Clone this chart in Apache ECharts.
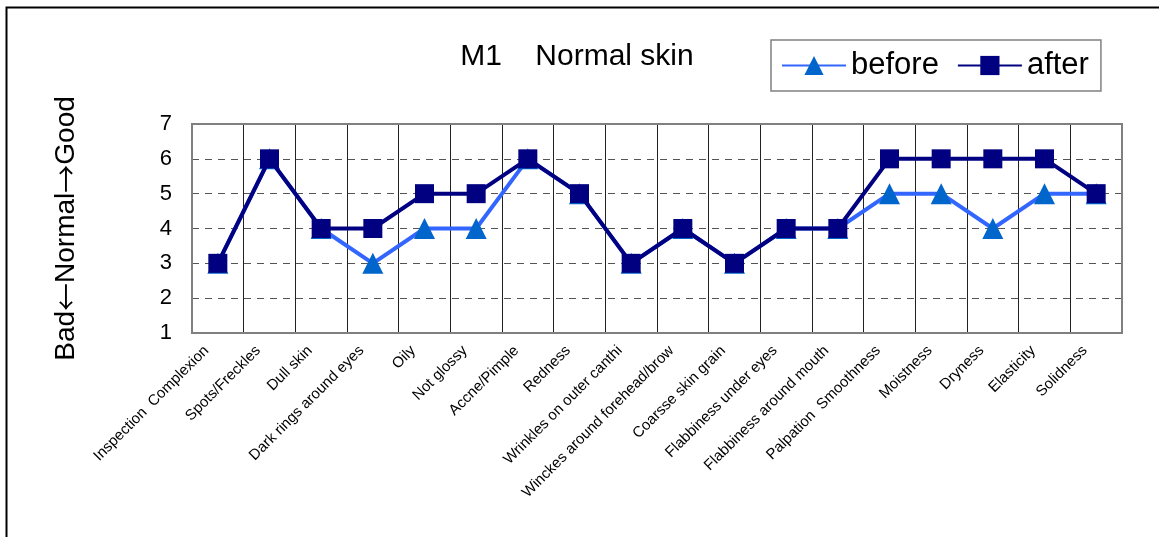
<!DOCTYPE html>
<html>
<head>
<meta charset="utf-8">
<script src="https://cdn.jsdelivr.net/npm/echarts@6/dist/echarts.min.js"></script>
<style>
  html, body { margin: 0; padding: 0; background: #fff; }
  #chart { width: 1159px; height: 537px; }
</style>
</head>
<body>
<div id="chart"></div>
<script>
const categories = [
  'Inspection  Complexion', 'Spots/Freckles', 'Dull skin', 'Dark rings around eyes',
  'Oily', 'Not glossy', 'Accne/Pimple', 'Redness', 'Wrinkles on outer canthi',
  'Winckes around forehead/brow', 'Coarsse skin grain', 'Flabbiness under eyes',
  'Flabbiness around mouth', 'Palpation  Smoothness', 'Moistness', 'Dryness',
  'Elasticity', 'Solidness'
]
const beforeValues = [3, 6, 4, 3, 4, 4, 6, 5, 3, 4, 3, 4, 4, 5, 5, 4, 5, 5]
const afterValues = [3, 6, 4, 4, 5, 5, 6, 5, 3, 4, 3, 4, 4, 6, 6, 6, 6, 5]
const yTicks = [1, 2, 3, 4, 5, 6, 7]

const font = '"Liberation Sans", Arial, sans-serif'
const cjk = '"Noto Sans CJK JP", "Noto Sans CJK SC", sans-serif'
const chart = echarts.init(document.getElementById('chart'))

const option = {
  backgroundColor: '#fff',
  animation: false,
  title: {
    text: 'M1    Normal skin',
    left: 572,
    top: 37,
    textAlign: 'center',
    textStyle: { fontFamily: font, fontSize: 30, fontWeight: 'normal', color: '#000' }
  },
  legend: {
    data: ['before', 'after'],
    left: 771,
    top: 40,
    padding: [10, 12, 10, 10],
    borderColor: '#808080',
    borderWidth: 1.5,
    itemWidth: 64,
    itemHeight: 24,
    itemGap: 18,
    textStyle: { fontFamily: font, fontSize: 31, color: '#000' }
  },
  graphic: [{
    type: 'rect',
    shape: { x: 6.5, y: 7.5, width: 1160, height: 560 },
    style: { fill: null, stroke: '#000', lineWidth: 2 },
    silent: true
  }],
  grid: { left: 192, right: 37, top: 124, bottom: 204 },
  xAxis: {
    type: 'category',
    data: categories,
    boundaryGap: true,
    axisLine: { show: false },
    axisTick: { show: false },
    axisLabel: {
      interval: 0,
      rotate: 45,
      margin: 4,
      padding: [0, 16, 0, 0],
      fontFamily: font,
      fontSize: 15,
      color: '#000'
    },
    splitLine: { show: true, interval: 0, lineStyle: { color: '#222', width: 1 } }
  },
  yAxis: {
    type: 'value',
    min: yTicks[0],
    max: yTicks[yTicks.length - 1],
    interval: 1,
    name: '{a|Bad}{b|←}{a|Normal}{b|→}{a|Good}',
    nameLocation: 'middle',
    nameGap: 112,
    nameTextStyle: {
      rich: {
        a: { fontFamily: font, fontSize: 28, color: '#000' },
        b: { fontFamily: cjk, fontSize: 28, color: '#000' }
      }
    },
    axisLine: { show: false },
    axisTick: { show: false },
    axisLabel: { fontFamily: font, fontSize: 22, color: '#000', margin: 20 },
    splitLine: {
      show: true,
      lineStyle: { color: '#555', type: [7, 6], width: 1 }
    }
  },
  series: [
    {
      name: 'before',
      type: 'line',
      data: beforeValues,
      symbol: 'triangle',
      symbolSize: 21,
      lineStyle: { color: '#3366FF', width: 4 },
      itemStyle: { color: '#0066CC' },
      z: 2
    },
    {
      name: 'after',
      type: 'line',
      data: afterValues,
      symbol: 'rect',
      symbolSize: 19,
      lineStyle: { color: '#000080', width: 4 },
      itemStyle: { color: '#000080' },
      z: 3
    },
    {
      // plot area frame
      type: 'line',
      data: [],
      markArea: {
        silent: true,
        itemStyle: { color: 'transparent', borderColor: '#808080', borderWidth: 2 },
        data: [[{ x: 192, y: 124 }, { x: 1122, y: 333 }]]
      }
    }
  ]
}

chart.setOption(option)
</script>
</body>
</html>
